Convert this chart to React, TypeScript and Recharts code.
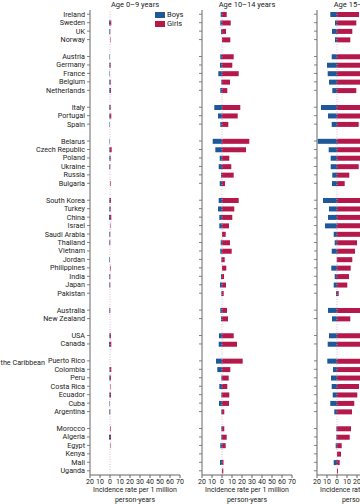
import { Bar, BarChart, Legend, ReferenceLine, XAxis, YAxis } from 'recharts';

// Countries, grouped by region (a blank row is left between groups)
const europeNorth = ['Ireland', 'Sweden', 'UK', 'Norway'];
const europeWest = ['Austria', 'Germany', 'France', 'Belgium', 'Netherlands'];
const europeSouth = ['Italy', 'Portugal', 'Spain'];
const europeEast = ['Belarus', 'Czech Republic', 'Poland', 'Ukraine', 'Russia', 'Bulgaria'];
const asia = ['South Korea', 'Turkey', 'China', 'Israel', 'Saudi Arabia', 'Thailand', 'Vietnam', 'Jordan', 'Philippines', 'India', 'Japan', 'Pakistan'];
const oceania = ['Australia', 'New Zealand'];
const northAmerica = ['USA', 'Canada'];
const latinAmerica = ['Puerto Rico', 'Colombia', 'Peru', 'Costa Rica', 'Ecuador', 'Cuba', 'Argentina'];
const africa = ['Morocco', 'Algeria', 'Egypt', 'Kenya', 'Mali', 'Uganda'];
const regionGroups = [europeNorth, europeWest, europeSouth, europeEast, asia, oceania, northAmerica, latinAmerica, africa];

// Incidence rate per 1 million person-years, same country order as above
const boys0to9 = [0, 1, 0.7, 0, 0.5, 0.7, 0.5, 0.7, 0.7, 0.7, 0.7, 0.5, 0.5, 0.7, 0.7, 0.7, 0, 0, 0.7, 0.7, 1, 0, 0.7, 0.7, 0, 0.7, 0, 0.7, 0.7, 0, 0.7, 0, 0.7, 1, 0, 0.5, 0.7, 0, 0.7, 0.5, 0.7, 0, 1, 0, 0, 0, 0];
const girls0to9 = [0, 1.3, 0.3, 0.5, 0, 0.7, 0, 0.7, 1, 0.7, 1.3, 0, 0, 1.7, 0.7, 0.3, 0, 0.7, 1, 0.7, 1.3, 0.5, 0.3, 0.3, 0, 0, 0.7, 0.3, 0.3, 0, 0.3, 0, 1, 1.3, 0, 1.3, 1, 0.5, 1, 0, 0.3, 0.7, 1, 0.5, 0, 0, 0];
const boys10to14 = [1.3, 1.7, 1, 0, 1.7, 2, 3.7, 0.7, 1.7, 7.7, 4, 1.7, 9.3, 6.7, 2.3, 3.3, 1, 2.3, 3.3, 4, 2.7, 2.7, 0, 1.3, 1.7, 0.7, 0, 1, 2, 0.7, 1.7, 1, 3, 3.3, 6, 4.7, 0.7, 2.7, 0.7, 3, 0.7, 0.7, 0.7, 1.7, 0, 2, 0];
const girls10to14 = [4.7, 8.7, 4, 8.3, 11.7, 10.3, 16.7, 8, 5.3, 18.3, 15.7, 6.3, 27.3, 24, 7.3, 9.3, 11.7, 3, 16.7, 12.3, 10.3, 7, 3.7, 8, 9.7, 2.7, 4.3, 2, 4, 1.7, 5, 6, 11.7, 15, 20.7, 8.3, 6.7, 5.3, 7.3, 7, 2.3, 2.3, 4.7, 3.7, 0, 1.5, 1.3];
const boys15to19 = [6.7, 2, 5, 2, 5.3, 10, 9.3, 8, 4.7, 16, 9, 5.3, 19.3, 8.3, 6.3, 6.3, 4.7, 5, 14, 8, 9, 12, 3.3, 2.3, 5.3, 0.3, 5.7, 2.3, 3.3, 1, 9, 5, 8, 9.3, 9.7, 4, 6, 5.3, 4.3, 6.7, 2.7, 0.7, 0.7, 1.3, 0, 3.3, 0];
const girls15to19 = [22, 19.3, 15.3, 13.3, 28, 30, 32, 30, 19.3, 36, 33, 21.7, 40, 38, 30, 21.7, 12.3, 7.7, 34, 30, 28, 36, 26, 20, 18, 15.3, 13.7, 12, 10.3, 1.7, 34, 13.3, 35, 32, 38, 28, 26, 22, 20.3, 17.3, 15, 14, 12.7, 4.7, 4, 2.7, 1];

const rateTicks = [-20, -10, 0, 10, 20, 30, 40, 50, 60, 70];

const BOYS = '#1f5898';
const GIRLS = '#b5184a';
const AXIS = '#666';
const TEXT = '#222';
const FONT = '"Liberation Sans Narrow", Roboto, "Liberation Sans", sans-serif';

const GAP = '_gap';

// rows with a spacer between region groups
const buildRows = (boys: number[], girls: number[]) => {
  const rows: { id: string; boys?: number; girls?: number }[] = [];
  let k = 0;
  regionGroups.forEach((group, gi) => {
    if (gi > 0) rows.push({ id: `${GAP}${gi}` });
    group.forEach((country) => {
      rows.push({ id: country, boys: -boys[k], girls: girls[k] });
      k++;
    });
  });
  return rows;
};

const CountryTick = ({ x, y, payload, showLabel }: any) => {
  if (String(payload.value).startsWith(GAP)) return null;
  return (
    <g>
      <line x1={x + 2} x2={x + 5} y1={y} y2={y} stroke={AXIS} strokeWidth={0.8} />
      {showLabel && (
        <text x={x} y={y} dy={2.5} textAnchor="end" fontSize={7.2} fill={TEXT} fontFamily={FONT}>
          {payload.value}
        </text>
      )}
    </g>
  );
};

const LegendBox = ({ payload }: any) => (
  <div style={{ fontFamily: FONT, fontSize: 7.5, color: TEXT, lineHeight: '9px' }}>
    {payload.map((p: any) => (
      <div key={p.value} style={{ display: 'flex', alignItems: 'center' }}>
        <span style={{ display: 'inline-block', width: 10, height: 6, background: p.color, marginRight: 2 }} />
        {p.value}
      </div>
    ))}
  </div>
);

interface PanelProps {
  title: string;
  boys: number[];
  girls: number[];
  left: number;
  axisWidth: number;
  showLabels?: boolean;
  showLegend?: boolean;
}

const PLOT_W = 90;

const Panel = ({ title, boys, girls, left, axisWidth, showLabels, showLegend }: PanelProps) => {
  const data = buildRows(boys, girls);
  const width = axisWidth + PLOT_W + 6;
  const center = left + axisWidth + PLOT_W / 2;
  return (
    <>
      <div style={{ position: 'absolute', left: center - 50, width: 100, top: 0, lineHeight: '9px', textAlign: 'center', fontSize: 7.5, color: TEXT, fontFamily: FONT }}>
        {title}
      </div>
      <div style={{ position: 'absolute', left, top: 0 }}>
        <BarChart
          width={width}
          height={504}
          data={data}
          layout="vertical"
          stackOffset="sign"
          barSize={5}
          margin={{ top: 10, right: 6, bottom: 0, left: 0 }}
        >
          <XAxis
            type="number"
            domain={[-20, 70]}
            ticks={rateTicks}
            interval={0}
            tickFormatter={(v: number) => String(Math.abs(v))}
            tick={{ fontSize: 7, fill: TEXT, fontFamily: FONT }}
            tickSize={3}
            tickMargin={1}
            stroke={AXIS}
            height={29}
          />
          <YAxis
            type="category"
            dataKey="id"
            width={axisWidth}
            interval={0}
            tickSize={3}
            tickMargin={2}
            tickLine={false}
            stroke={AXIS}
            tick={(p: any) => <CountryTick {...p} showLabel={showLabels} />}
          />
          <ReferenceLine x={0} stroke="#d2a9c0" strokeDasharray="1 1.5" strokeWidth={0.8} />
          {showLegend && (
            <Legend
              layout="vertical"
              align="center"
              verticalAlign="middle"
              wrapperStyle={{ position: 'absolute', left: 155, top: 10, width: 40 }}
              content={<LegendBox />}
            />
          )}
          <Bar dataKey="boys" name="Boys" stackId="s" fill={BOYS} isAnimationActive={false} />
          <Bar dataKey="girls" name="Girls" stackId="s" fill={GIRLS} isAnimationActive={false} />
        </BarChart>
      </div>
      <div style={{ position: 'absolute', left: center - 60, width: 120, top: 486, textAlign: 'center', fontSize: 7, lineHeight: '9.5px', color: TEXT, fontFamily: FONT }}>
        Incidence rate per 1 million
        <br />
        person-years
      </div>
    </>
  );
};

export default function App() {
  return (
    <div style={{ position: 'fixed', left: 0, top: 0, width: 360, height: 504, overflow: 'hidden', background: '#fff' }}>
      <div style={{ position: 'absolute', right: 360 - 45, top: 358, whiteSpace: 'nowrap', fontSize: 7.2, color: TEXT, fontFamily: FONT }}>
        Latin America and the Caribbean
      </div>
      <Panel title="Age 0–9 years" boys={boys0to9} girls={girls0to9} left={0} axisWidth={90} showLabels showLegend />
      <Panel title="Age 10–14 years" boys={boys10to14} girls={girls10to14} left={190} axisWidth={12} />
      <Panel title="Age 15–19 years" boys={boys15to19} girls={girls15to19} left={305} axisWidth={12} />
    </div>
  );
}
